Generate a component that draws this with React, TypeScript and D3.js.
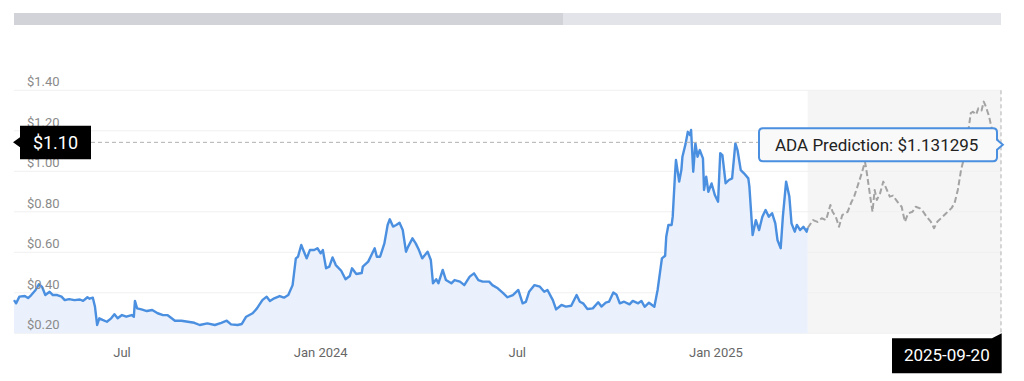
import React from "react";
import * as d3 from "d3";

const historyDates = [
  "2023-03-23","2023-03-25","2023-03-28","2023-04-02","2023-04-05","2023-04-08","2023-04-12","2023-04-15","2023-04-18","2023-04-21",
  "2023-04-25","2023-04-28","2023-05-02","2023-05-06","2023-05-09","2023-05-13","2023-05-18","2023-05-23","2023-05-26","2023-05-30",
  "2023-06-01","2023-06-04","2023-06-06","2023-06-08","2023-06-10","2023-06-13","2023-06-17","2023-06-21","2023-06-24","2023-06-27",
  "2023-07-01","2023-07-05","2023-07-10","2023-07-12","2023-07-13","2023-07-15","2023-07-19","2023-07-24","2023-07-29","2023-08-03",
  "2023-08-08","2023-08-12","2023-08-16","2023-08-19","2023-08-25","2023-08-31","2023-09-06","2023-09-11","2023-09-18","2023-09-25",
  "2023-10-01","2023-10-06","2023-10-10","2023-10-16","2023-10-20","2023-10-24","2023-10-30","2023-11-03","2023-11-08","2023-11-12",
  "2023-11-15","2023-11-19","2023-11-24","2023-11-28","2023-12-02","2023-12-06","2023-12-09","2023-12-11","2023-12-14","2023-12-19",
  "2023-12-22","2023-12-26","2023-12-29","2024-01-01","2024-01-03","2024-01-06","2024-01-09","2024-01-12","2024-01-15","2024-01-20",
  "2024-01-24","2024-01-28","2024-01-30","2024-02-03","2024-02-08","2024-02-09","2024-02-14","2024-02-17","2024-02-20","2024-02-22",
  "2024-02-25","2024-02-29","2024-03-03","2024-03-05","2024-03-08","2024-03-11","2024-03-14","2024-03-17","2024-03-20","2024-03-22",
  "2024-03-26","2024-03-29","2024-04-01","2024-04-04","2024-04-09","2024-04-12","2024-04-14","2024-04-17","2024-04-19","2024-04-23",
  "2024-04-26","2024-05-01","2024-05-04","2024-05-09","2024-05-13","2024-05-18","2024-05-22","2024-05-26","2024-05-30","2024-06-05",
  "2024-06-08","2024-06-13","2024-06-18","2024-06-22","2024-06-27","2024-07-02","2024-07-06","2024-07-09","2024-07-12","2024-07-17",
  "2024-07-22","2024-07-26","2024-07-29","2024-08-03","2024-08-06","2024-08-11","2024-08-15","2024-08-20","2024-08-25","2024-08-28",
  "2024-08-31","2024-09-04","2024-09-09","2024-09-14","2024-09-17","2024-09-21","2024-09-24","2024-09-28","2024-10-01","2024-10-04",
  "2024-10-08","2024-10-13","2024-10-16","2024-10-21","2024-10-24","2024-10-27","2024-10-31","2024-11-05","2024-11-08","2024-11-12",
  "2024-11-15","2024-11-16","2024-11-18","2024-11-21","2024-11-22","2024-11-24","2024-11-25","2024-11-28","2024-11-30","2024-12-01",
  "2024-12-04","2024-12-06","2024-12-08","2024-12-09","2024-12-11","2024-12-13","2024-12-15","2024-12-17","2024-12-20","2024-12-21",
  "2024-12-23","2024-12-25","2024-12-28","2024-12-31","2025-01-03","2025-01-05","2025-01-07","2025-01-10","2025-01-13","2025-01-16",
  "2025-01-19","2025-01-21","2025-01-24","2025-01-27","2025-01-31","2025-02-01","2025-02-04","2025-02-07","2025-02-10","2025-02-13",
  "2025-02-16","2025-02-19","2025-02-22","2025-02-25","2025-02-27","2025-03-02","2025-03-04","2025-03-07","2025-03-10","2025-03-12",
  "2025-03-15","2025-03-17","2025-03-20","2025-03-23","2025-03-26","2025-03-27",
];
const historyValues = [
  0.364,0.348,0.381,0.384,0.374,0.389,0.414,0.442,0.429,0.389,
  0.405,0.389,0.389,0.381,0.364,0.369,0.364,0.367,0.36,0.378,
  0.371,0.376,0.331,0.241,0.274,0.266,0.257,0.274,0.294,0.274,
  0.29,0.282,0.29,0.282,0.36,0.323,0.318,0.31,0.315,0.299,
  0.29,0.29,0.274,0.262,0.262,0.257,0.252,0.241,0.249,0.241,
  0.252,0.262,0.244,0.241,0.246,0.282,0.299,0.323,0.364,0.381,
  0.36,0.373,0.384,0.376,0.389,0.438,0.57,0.578,0.636,0.57,
  0.611,0.611,0.62,0.595,0.611,0.521,0.529,0.575,0.537,0.509,
  0.467,0.483,0.521,0.493,0.498,0.529,0.554,0.587,0.62,0.578,
  0.578,0.644,0.735,0.763,0.727,0.735,0.746,0.71,0.603,0.628,
  0.669,0.644,0.611,0.57,0.603,0.562,0.447,0.467,0.447,0.513,
  0.463,0.447,0.463,0.455,0.438,0.48,0.496,0.463,0.455,0.455,
  0.438,0.422,0.398,0.378,0.389,0.414,0.348,0.355,0.405,0.438,
  0.43,0.405,0.414,0.364,0.318,0.34,0.332,0.336,0.389,0.356,
  0.348,0.32,0.323,0.353,0.332,0.351,0.356,0.401,0.39,0.348,
  0.356,0.343,0.36,0.348,0.36,0.331,0.351,0.331,0.414,0.57,
  0.583,0.677,0.735,0.735,0.776,0.973,1.056,0.949,1.006,1.072,
  1.138,1.195,1.179,1.204,0.998,1.138,1.072,1.105,1.064,0.908,
  0.973,0.899,0.94,0.883,0.85,1.089,1.08,0.941,0.957,0.965,
  1.138,1.105,1.006,0.99,0.965,0.924,0.685,0.759,0.71,0.776,
  0.809,0.776,0.793,0.743,0.661,0.62,0.776,0.949,0.875,0.743,
  0.702,0.735,0.71,0.726,0.702,0.72,
];

const predictionDates = [
  "2025-03-27","2025-04-01","2025-04-05","2025-04-09","2025-04-13","2025-04-17","2025-04-19","2025-04-22","2025-04-25","2025-04-28",
  "2025-05-03","2025-05-06","2025-05-09","2025-05-12","2025-05-16","2025-05-19","2025-05-20","2025-05-23","2025-05-26","2025-05-28",
  "2025-05-30","2025-06-02","2025-06-05","2025-06-07","2025-06-11","2025-06-14","2025-06-18","2025-06-22","2025-06-25","2025-06-28",
  "2025-07-02","2025-07-05","2025-07-09","2025-07-12","2025-07-15","2025-07-19","2025-07-22","2025-07-25","2025-07-30","2025-08-02",
  "2025-08-07","2025-08-10","2025-08-13","2025-08-16","2025-08-19","2025-08-22","2025-08-25","2025-08-27","2025-08-30","2025-09-01",
  "2025-09-04","2025-09-06","2025-09-08","2025-09-11","2025-09-13","2025-09-16","2025-09-19","2025-09-20",
];
const predictionValues = [
  0.72,0.759,0.75,0.768,0.759,0.834,0.8,0.776,0.726,0.784,
  0.8,0.842,0.875,0.924,0.99,1.047,1.02,0.908,0.8,0.908,
  0.858,0.891,0.949,0.924,0.875,0.88,0.85,0.825,0.751,0.792,
  0.8,0.825,0.817,0.8,0.776,0.751,0.719,0.751,0.776,0.792,
  0.817,0.842,0.908,1.006,1.072,1.171,1.287,1.294,1.28,1.311,
  1.3,1.344,1.319,1.27,1.22,1.179,1.154,1.131295,
];

const yTickValues = [0.2, 0.4, 0.6, 0.8, 1.0, 1.2, 1.4];
const yTickLabels = ["$0.20", "$0.40", "$0.60", "$0.80", "$1.00", "$1.20", "$1.40"];
const xTickDates = ["2023-07-01", "2024-01-01", "2024-07-01", "2025-01-01"];
const xTickLabels = ["Jul", "Jan 2024", "Jul", "Jan 2025"];

const domainStart = "2023-03-23";
const domainEnd = "2025-09-22";
const crosshairValue = 1.143;
const crosshairLabel = "$1.10";
const tooltipText = "ADA Prediction: $1.131295";
const hoverDateLabel = "2025-09-20";

const W = 1024;
const H = 381;
const FONT = "Roboto, 'Noto Sans', Arial, sans-serif";

export default function App() {
  const parse = d3.timeParse("%Y-%m-%d");
  const left = 14, right = 1001, top = 90.3, bottom = 333.3;
  const x = d3.scaleTime().domain([parse(domainStart)!, parse(domainEnd)!]).range([left, right]);
  const y = d3.scaleLinear().domain([0.2, 1.4]).range([bottom, top]);

  const hist = historyDates.map((d, i) => ({ d: parse(d)!, v: historyValues[i] }));
  const pred = predictionDates.map((d, i) => ({ d: parse(d)!, v: predictionValues[i] }));

  const line = d3.line<{ d: Date; v: number }>().x((p) => x(p.d)).y((p) => y(p.v));
  const area = d3.area<{ d: Date; v: number }>().x((p) => x(p.d)).y0(bottom).y1((p) => y(p.v));

  const histEndX = x(hist[hist.length - 1].d);
  const last = pred[pred.length - 1];
  const px = x(last.d);
  const py = y(last.v);
  const cy = y(crosshairValue);

  return (
    <svg width={W} height={H} style={{ position: "absolute", left: 0, top: 0, background: "#fff" }} fontFamily={FONT}>
      {/* scrollbar */}
      <rect x={14} y={13} width={987} height={12} fill="#e3e4ea" />
      <rect x={14} y={13} width={549} height={12} fill="#d2d3d9" />

      {/* prediction band */}
      <rect x={histEndX} y={top} width={right - histEndX} height={bottom - top} fill="#f5f5f5" />

      {/* gridlines */}
      {yTickValues.map((v) => (
        <line key={v} x1={left} x2={right} y1={y(v)} y2={y(v)} stroke="#f0f0f0" strokeWidth={1} />
      ))}

      {/* history */}
      <path d={area(hist)!} fill="#eaf1fc" />
      <path d={line(hist)!} fill="none" stroke="#4a8fe0" strokeWidth={2.4} strokeLinejoin="round" />

      {/* prediction */}
      <path d={line(pred)!} fill="none" stroke="#a3a3a3" strokeWidth={2} strokeDasharray="6 3" strokeLinejoin="round" />

      {/* y labels */}
      {yTickValues.map((v, i) => (
        <text key={v} x={27} y={y(v) - 4} fontSize={13} fill="#8a8a8a">
          {yTickLabels[i]}
        </text>
      ))}

      {/* x labels */}
      {xTickDates.map((d, i) => (
        <text key={d} x={x(parse(d)!)} y={357} fontSize={13} fill="#666" textAnchor="middle">
          {xTickLabels[i]}
        </text>
      ))}

      {/* crosshairs */}
      <line x1={91} x2={760} y1={cy} y2={cy} stroke="#b0b0b0" strokeWidth={1} strokeDasharray="4 3" />
      <line x1={right} x2={right} y1={top} y2={bottom} stroke="#b0b0b0" strokeWidth={1} strokeDasharray="4 3" />

      {/* crosshair y label */}
      <path
        d={`M${left - 1},${cy} L20,${cy - 5} L20,${cy - 16.5} L91,${cy - 16.5} L91,${cy + 17} L20,${cy + 17} L20,${cy + 5} Z`}
        fill="#000"
      />
      <text x={55.5} y={cy + 6.5} fontSize={18} fill="#fff" textAnchor="middle">
        {crosshairLabel}
      </text>

      {/* crosshair x label */}
      <path d={`M892,338.3 L992,338.3 L1001.7,333.3 L1001.7,373.3 L892,373.3 Z`} fill="#000" />
      <text x={946.8} y={361} fontSize={17} fill="#fff" textAnchor="middle">
        {hoverDateLabel}
      </text>

      {/* tooltip */}
      <path
        d={`M763,${py - 16.5} L993,${py - 16.5} Q997,${py - 16.5} 997,${py - 12.5} L997,${py - 5} L${px + 4},${py} L997,${py + 5} L997,${py + 12.5} Q997,${py + 16.5} 993,${py + 16.5} L763,${py + 16.5} Q759,${py + 16.5} 759,${py + 12.5} L759,${py - 12.5} Q759,${py - 16.5} 763,${py - 16.5} Z`}
        fill="#f9f9f9"
        stroke="#4a8fe0"
        strokeWidth={2}
      />
      <text x={775} y={py + 6.5} fontSize={17} fill="#222">
        {tooltipText}
      </text>
    </svg>
  );
}
